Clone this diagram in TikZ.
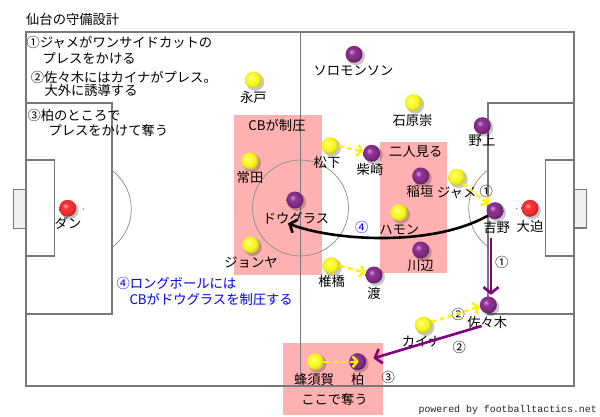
\documentclass[tikz,border=0pt]{standalone}
\usepackage{fontspec}
\setmainfont{Noto Sans CJK JP}
\newfontfamily\monofont{Liberation Mono}
\usetikzlibrary{arrows.meta,calc}

\definecolor{yb}{RGB}{255,255,40}
\definecolor{pb}{RGB}{145,50,150}
\definecolor{rb}{RGB}{255,50,50}
\definecolor{pinkbox}{RGB}{255,176,176}
\definecolor{linegray}{RGB}{120,120,120}
\definecolor{arrowpurple}{RGB}{128,0,128}

\pgfdeclareradialshading{yball}{\pgfqpoint{-8bp}{8bp}}{color(0bp)=(yb!25!white); color(9bp)=(yb); color(20bp)=(yb!95!black); color(25bp)=(yb!82!black); color(50bp)=(yb!80!black)}
\pgfdeclareradialshading{pball}{\pgfqpoint{-8bp}{8bp}}{color(0bp)=(pb!45!white); color(9bp)=(pb); color(20bp)=(pb!88!black); color(25bp)=(pb!72!black); color(50bp)=(pb!70!black)}
\pgfdeclareradialshading{rball}{\pgfqpoint{-8bp}{8bp}}{color(0bp)=(rb!40!white); color(9bp)=(rb); color(20bp)=(rb!92!black); color(25bp)=(rb!78!black); color(50bp)=(rb!75!black)}

\newcommand\mkplayer[4]{%
  \fill[black,opacity=0.22] (#3+2,#4+2) circle[radius=9pt];
  \node[#2] (#1) at (#3,#4) {};}

\begin{document}
\begin{tikzpicture}[x=1pt,y=-1pt,
  every node/.style={inner sep=0pt,font=\fontsize{13.3pt}{16pt}\selectfont},
  pitchline/.style={draw=linegray,line width=1.4pt},
  thinline/.style={draw=black!45,line width=0.7pt},
  pinkzone/.style={fill=pinkbox},
  ballnode/.style={circle,minimum size=17pt,inner sep=0pt},
  yel/.style={ballnode,shading=yball},
  pur/.style={ballnode,shading=pball},
  redb/.style={ballnode,shading=rball},
  yarrow/.style={draw=yellow,line width=2.4pt,dash pattern=on 5pt off 3.5pt,
     -{Straight Barb[length=4.5pt,width=11pt]}},
  parrow/.style={draw=arrowpurple,line width=2.6pt,-{Straight Barb[length=6pt,width=15pt]}},
  karrow/.style={draw=black,line width=2.6pt,-{Straight Barb[length=6pt,width=14pt]}},
  numlabel/.style={},
  bluetext/.style={text=blue}]
\useasboundingbox (0,0) rectangle (600,417);
\fill[white] (0,0) rectangle (600,417);

% pink zones
\fill[pinkzone] (234.3,114.7) rectangle (321.7,275);
\fill[pinkzone] (380,141.7) rectangle (447.3,272.7);
\fill[pinkzone] (283.3,342.7) rectangle (382.7,415);

% pitch
\draw[pitchline] (26,32) rectangle (574,386);
\draw[pitchline] (300.5,32) -- (300.5,386);
\draw[pitchline] (26,103) rectangle (112,314);
\draw[pitchline] (26,160) rectangle (54.7,256);
\draw[pitchline,fill=black!6] (13.3,189.3) rectangle (26,228.3);
\draw[pitchline] (488,103) rectangle (574,314);
\draw[pitchline] (545.7,160) rectangle (574,256);
\draw[pitchline,fill=black!6] (574,189.3) rectangle (586.3,228);
\draw[thinline] (300.5,208) circle[radius=48pt];
\begin{scope}
  \clip (112.7,32) rectangle (200,386);
  \draw[thinline] (83.3,209) circle[radius=48pt];
\end{scope}
\begin{scope}
  \clip (400,32) rectangle (487.3,386);
  \draw[thinline] (516.7,208.3) circle[radius=48pt];
\end{scope}
\fill[black!50] (83.3,209) circle[radius=0.8pt];
\fill[black!50] (516.7,208.3) circle[radius=0.8pt];

% texts
\node[anchor=west] (title) at (26,19) {仙台の守備設計};
\node[anchor=west] (t1) at (26.5,42.7) {①ジャメがワンサイドカットの};
\node[anchor=west] (t2) at (42.3,58.3) {プレスをかける};
\node[anchor=west] (t3) at (30.7,77.3) {②佐々木にはカイナがプレス。};
\node[anchor=west] (t4) at (44.3,90.7) {大外に誘導する};
\node[anchor=west] (t5) at (27.3,115) {③柏のところで};
\node[anchor=west] (t6) at (48.3,130) {プレスをかけて奪う};
\node[anchor=west,bluetext] (b1) at (116.3,283.3) {④ロングボールには};
\node[anchor=west,bluetext] (b2) at (129.3,299.3) {CBがドウグラスを制圧する};
\node (z1) at (277,125) {CBが制圧};
\node (z2) at (415.8,151.7) {二人見る};
\node (z3) at (334.5,399) {ここで奪う};
\node[anchor=east,font=\monofont\fontsize{9.9pt}{12pt}\selectfont,text=black!85] (footer) at (597,409.5) {powered by footballtactics.net};

% black long ball arrow
\node (dougL) at (296,218.3) {ドウグラス};
\mkplayer{yoshino}{pur}{495}{210.7}
\draw[karrow] (yoshino.215) .. controls (430,248) and (330,240) .. ([xshift=-8pt,yshift=-5pt]dougL.center);

% players
\mkplayer{nagato}{yel}{253.3}{80}
\mkplayer{ishihara}{yel}{413.3}{102.7}
\mkplayer{matsushita}{yel}{330}{145.7}
\mkplayer{tsuneta}{yel}{250}{161}
\mkplayer{jonya}{yel}{250.7}{245}
\mkplayer{shiibashi}{yel}{331}{265.7}
\mkplayer{jame}{yel}{456.7}{177.3}
\mkplayer{hamon}{yel}{399}{212.7}
\mkplayer{kaina}{yel}{423.3}{325}
\mkplayer{hachisuka}{yel}{315.5}{361.7}
\mkplayer{solomonson}{pur}{354}{54.3}
\mkplayer{nogami}{pur}{482.3}{125.7}
\mkplayer{shibasaki}{pur}{371.7}{153.3}
\mkplayer{douglas}{pur}{295}{200}
\mkplayer{watari}{pur}{374}{275}
\mkplayer{inagaki}{pur}{420.7}{176}
\mkplayer{kawabe}{pur}{420.7}{250}
\mkplayer{sasaki}{pur}{488.3}{305}
\mkplayer{kashiwa}{pur}{357.7}{361.7}
\mkplayer{dan}{redb}{67.7}{208.3}
\mkplayer{osako}{redb}{530}{208.3}

% labels
\node (nagatoL) at (253.3,97.5) {永戸};
\node (ishiharaL) at (412.5,120) {石原崇};
\node (matsushitaL) at (327,162.3) {松下};
\node (tsunetaL) at (250,177.7) {常田};
\node (jonyaL) at (251,262.3) {ジョンヤ};
\node (shiibashiL) at (331.7,281.7) {椎橋};
\node (jameL) at (456.7,192.7) {ジャメ};
\node (hamonL) at (399.3,230) {ハモン};
\node (kainaL) at (421.7,341.7) {カイナ};
\node (hachisukaL) at (314,379) {蜂須賀};
\node (solomonsonL) at (353.5,71) {ソロモンソン};
\node (nogamiL) at (482,141) {野上};
\node (shibasakiL) at (370,169.3) {柴崎};
\node (watariL) at (374,293) {渡};
\node (inagakiL) at (420,191.7) {稲垣};
\node (kawabeL) at (420.7,266) {川辺};
\node (yoshinoL) at (496.7,227.3) {吉野};
\node (sasakiL) at (487.3,322.7) {佐々木};
\node (kashiwaL) at (357.7,379) {柏};
\node (danL) at (68,223.3) {ダン};
\node (osakoL) at (530,226) {大迫};

% step numbers
\node (n1a) at (486.3,191.7) {①};
\node (n1b) at (501.7,262.3) {①};
\node (n2a) at (458.3,314.3) {②};
\node (n2b) at (459.3,347.7) {②};
\node (n3) at (388.3,377.3) {③};
\node[bluetext] (n4) at (361.7,227.3) {④};

% purple arrows
\draw[parrow] ([xshift=-5.7pt,yshift=-10.7pt]yoshinoL.center) -- ([xshift=2.7pt,yshift=1.5pt]sasaki.north);
\draw[parrow] ([xshift=-5.7pt,yshift=-3.3pt]sasakiL.center) -- ([xshift=7pt,yshift=3.4pt]kashiwa.east);

% yellow dashed arrows
\draw[yarrow] (matsushita.east) -- (shibasaki.170);
\draw[yarrow] (shiibashi.east) -- (watari.165);
\draw[yarrow] (jame.-45) -- (yoshino.135);
\draw[yarrow] (kaina.20) -- (sasaki.190);
\draw[yarrow] (hachisuka.east) -- ([xshift=1pt]kashiwa.center);
\end{tikzpicture}
\end{document}
